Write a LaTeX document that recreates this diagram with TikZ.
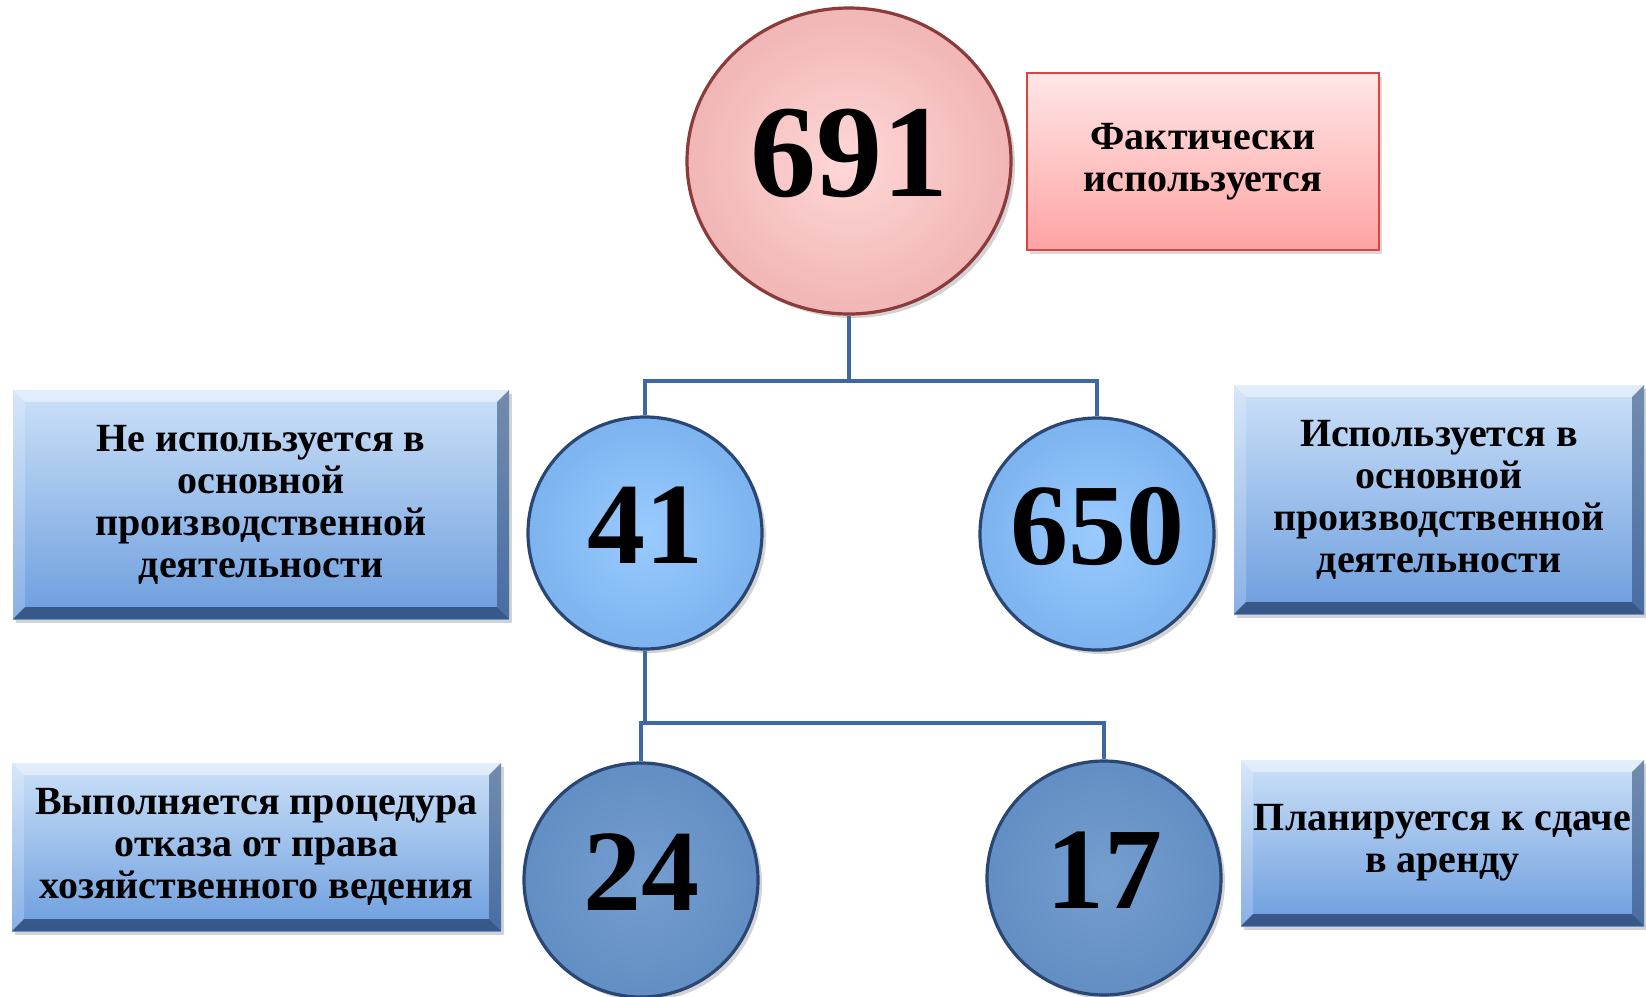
\documentclass[tikz,border=0pt]{standalone}
\usepackage{fontspec}
\setmainfont{Liberation Serif}
\usetikzlibrary{positioning, shapes.geometric, shadows}

\definecolor{linkblue}{HTML}{3E68A0}
\definecolor{pinkfill}{HTML}{FFC6C6}
\definecolor{pinkedge}{HTML}{8C3B3B}
\definecolor{lightfill}{HTML}{88C2FF}
\definecolor{darkfill}{HTML}{6996CC}
\definecolor{blueedge}{HTML}{2A4774}
\definecolor{boxtop}{HTML}{CCE1F8}
\definecolor{boxbottom}{HTML}{6C9DDE}
\definecolor{redtop}{HTML}{FFE6E6}
\definecolor{redbottom}{HTML}{FFA3A3}
\definecolor{rededge}{HTML}{D84545}

\begin{document}
\begin{tikzpicture}[
            x=0.5pt, y=-0.5pt,
            every node/.style={font=\bfseries},
            number/.style={ellipse, inner sep=0pt, inner xsep=-6pt, text depth=8pt, line width=1.6pt,
                drop shadow={opacity=.35, shadow xshift=2pt, shadow yshift=-2pt}},
            bignum/.style={number, minimum width=162pt, minimum height=153pt,
                inner color=pinkfill!70!white, outer color=pinkfill!88!pinkedge, draw=pinkedge,
                font=\fontsize{66}{66}\bfseries},
            midnum/.style={number, minimum width=117pt, minimum height=116pt,
                inner color=lightfill!85!white, outer color=lightfill!88!blueedge, draw=blueedge,
                font=\fontsize{58}{58}\bfseries},
            lownum/.style={number, minimum width=117pt, minimum height=117pt,
                inner color=darkfill!92!white, outer color=darkfill!90!blueedge, draw=blueedge,
                font=\fontsize{58}{58}\bfseries},
            redbox/.style={rectangle, align=center, inner sep=0pt,
                top color=redtop, bottom color=redbottom, draw=rededge, line width=0.8pt,
                font=\fontsize{20}{21}\bfseries,
                drop shadow={opacity=.3, shadow xshift=1.5pt, shadow yshift=-2pt}},
            bevelbox/.style={rectangle, align=center, inner sep=0pt,
                top color=boxtop, bottom color=boxbottom,
                font=\fontsize{20}{21}\bfseries,
                drop shadow={opacity=.35, shadow xshift=1.5pt, shadow yshift=-2pt},
                path picture={
                    \fill[white, opacity=.45] (path picture bounding box.north west)
                        -- (path picture bounding box.north east)
                        -- ([xshift=-6pt, yshift=-6pt]path picture bounding box.north east)
                        -- ([xshift=6pt, yshift=-6pt]path picture bounding box.north west) -- cycle;
                    \fill[white, opacity=.2] (path picture bounding box.north west)
                        -- ([xshift=6pt, yshift=-6pt]path picture bounding box.north west)
                        -- ([xshift=6pt, yshift=6pt]path picture bounding box.south west)
                        -- (path picture bounding box.south west) -- cycle;
                    \fill[blueedge, opacity=.55] (path picture bounding box.north east)
                        -- ([xshift=-6pt, yshift=-6pt]path picture bounding box.north east)
                        -- ([xshift=-6pt, yshift=6pt]path picture bounding box.south east)
                        -- (path picture bounding box.south east) -- cycle;
                    \fill[blueedge, opacity=.8] (path picture bounding box.south west)
                        -- ([xshift=6pt, yshift=6pt]path picture bounding box.south west)
                        -- ([xshift=-6pt, yshift=6pt]path picture bounding box.south east)
                        -- (path picture bounding box.south east) -- cycle;
                }},
            link/.style={draw=linkblue, line width=2.4pt}
        ]
    \useasboundingbox (0,0) rectangle (1646,997);

    % numbers
    \node[bignum] (Total) at (849,161) {691};
    \node[midnum] (NotUsed) at (645,533) {41};
    \node[midnum] (Used) at (1097,534) {650};
    \node[lownum] (Refusal) at (641,880) {24};
    \node[lownum] (Lease) at (1104,878) {17};

    % captions
    \node[redbox, minimum width=176pt, minimum height=88.5pt] (TotalText) at (1203,161.5)
        {Фактически\\используется};
    \node[bevelbox, minimum width=248pt, minimum height=114.5pt] (NotUsedText) at (261,504.5)
        {Не используется в\\основной\\производственной\\деятельности};
    \node[bevelbox, minimum width=205pt, minimum height=114.5pt] (UsedText) at (1439,499.5)
        {Используется в\\основной\\производственной\\деятельности};
    \node[bevelbox, minimum width=244.5pt, minimum height=84pt] (RefusalText) at (256.5,847)
        {Выполняется процедура\\отказа от права\\хозяйственного ведения};
    \node[bevelbox, minimum width=201.5pt, minimum height=83pt] (LeaseText) at (1442.5,843)
        {Планируется к сдаче\\в аренду};

    % connectors
    \coordinate (TopSplit) at (849,381);
    \coordinate (LowSplit) at (645,723);
    \draw[link] (Total.south) -- (TopSplit) -| (NotUsed.north);
    \draw[link] (TopSplit) -| (Used.north);
    \draw[link] (NotUsed.south) -- (LowSplit) -| (Refusal.north);
    \draw[link] (LowSplit) -| (Lease.north);

\end{tikzpicture}
\end{document}
